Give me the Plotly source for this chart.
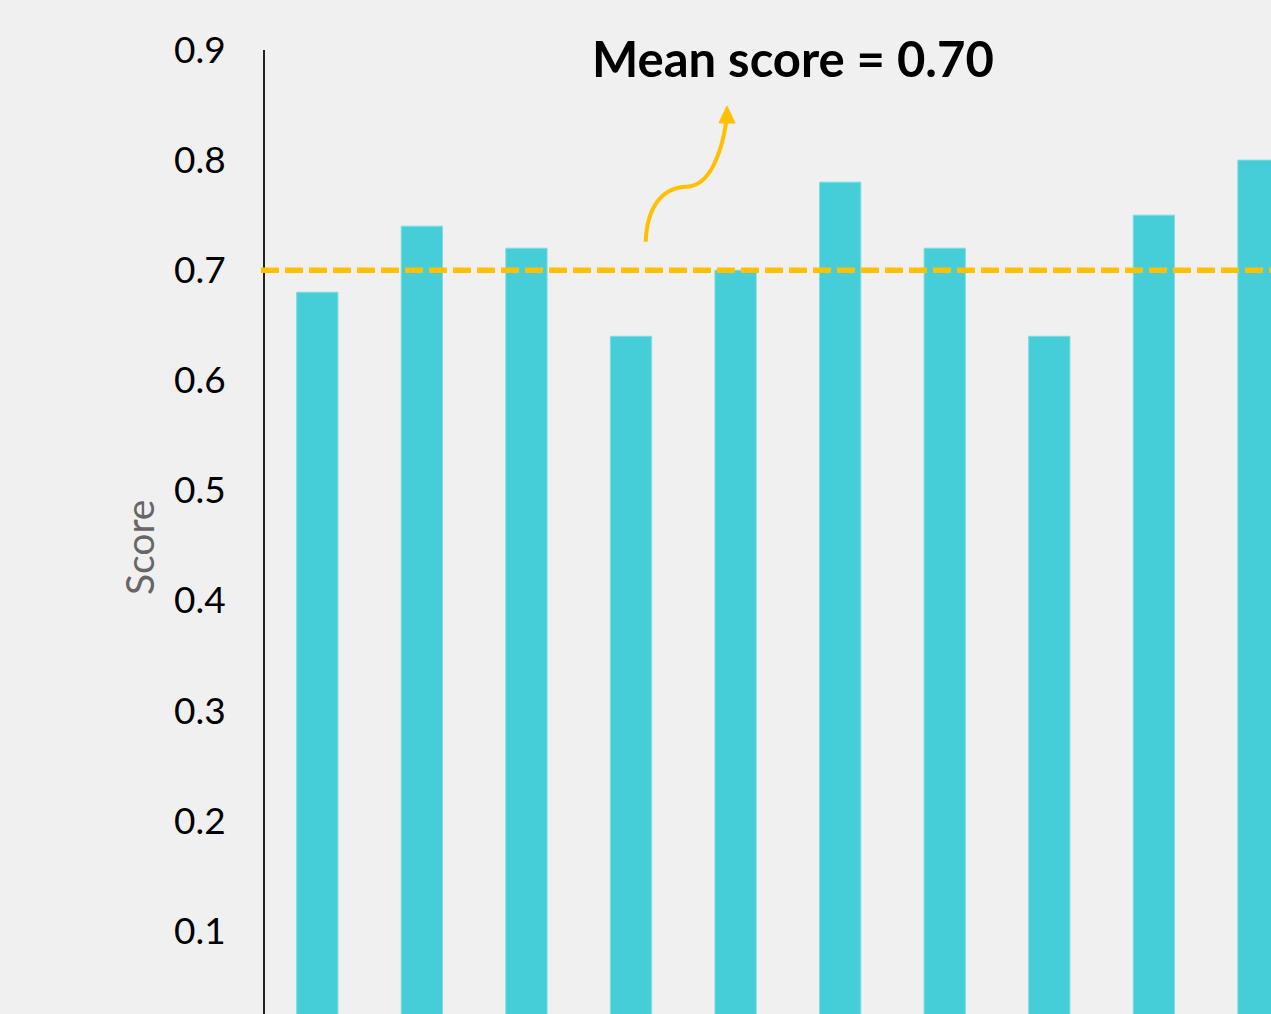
import plotly.graph_objects as go

# Scores per item
items = list(range(10))
scores = [0.68, 0.74, 0.72, 0.64, 0.70, 0.78, 0.72, 0.64, 0.75, 0.80]
mean_score = 0.70
tick_vals = [0.1, 0.2, 0.3, 0.4, 0.5, 0.6, 0.7, 0.8, 0.9]
tick_text = ["0.1", "0.2", "0.3", "0.4", "0.5", "0.6", "0.7", "0.8", "0.9"]

W, H = 1271, 1014
ML, MR, MT, MB = 265, 0, 50, 0
BG = "#F0F0F0"
BAR = "#45CDD8"
GOLD = "#FFC000"


def px(x, y):
    """Convert page pixel position to paper coordinates."""
    return (x - ML) / (W - ML - MR), (H - MB - y) / (H - MT - MB)


def pt(x, y):
    a, b = px(x, y)
    return f"{a:.5f},{b:.5f}"


fig = go.Figure(
    go.Bar(
        x=items,
        y=scores,
        marker=dict(color=BAR, line=dict(color="#7FDDE4", width=1)),
        width=0.395,
        hoverinfo="skip",
    )
)

# Mean line
fig.add_shape(
    type="line", xref="paper", yref="y", x0=-0.004, x1=1, y0=mean_score, y1=mean_score,
    line=dict(color=GOLD, width=5.5, dash="18px,6px"), layer="above",
)

# Curved pointer to the label
curve = (f"M {pt(645.7, 241.7)} "
         f"C {pt(647, 205)} {pt(664, 187)} {pt(686.7, 186.7)} "
         f"C {pt(710, 186)} {pt(722, 152)} {pt(726.5, 120)}")
fig.add_shape(type="path", xref="paper", yref="paper", path=curve,
              line=dict(color=GOLD, width=4))
head = f"M {pt(727, 106)} L {pt(735, 123)} L {pt(719, 123)} Z"
fig.add_shape(type="path", xref="paper", yref="paper", path=head,
              line=dict(color=GOLD, width=1), fillcolor=GOLD)

fig.add_annotation(
    text=f"<b>Mean score = {mean_score:.2f}</b>",
    xref="paper", yref="paper", x=px(793, 0)[0], y=px(0, 58)[1],
    showarrow=False, xanchor="center", yanchor="middle",
    font=dict(family="Lato", size=49, color="#000000"),
)

# Axis title
fig.add_annotation(
    text="Score", xref="paper", yref="paper",
    x=px(139, 0)[0], y=px(0, 548)[1], textangle=-90,
    showarrow=False, xanchor="center", yanchor="middle",
    font=dict(family="Lato", size=39, color="#666666"),
)

fig.update_layout(
    width=W, height=H,
    margin=dict(l=ML, r=MR, t=MT, b=MB, pad=0),
    paper_bgcolor=BG, plot_bgcolor=BG,
    showlegend=False,
    bargap=0.6,
    xaxis=dict(range=[-0.5, 9.12], showticklabels=False, showgrid=False,
               zeroline=False, showline=False, ticks=""),
    yaxis=dict(range=[0.0245, 0.9], tickvals=tick_vals, ticktext=tick_text,
               showgrid=False, zeroline=False, showline=True, linecolor="#222222",
               linewidth=2, ticks="", ticklabelstandoff=30,
               tickfont=dict(family="Lato", size=37, color="#000000")),
)

fig.write_html("out.html")
